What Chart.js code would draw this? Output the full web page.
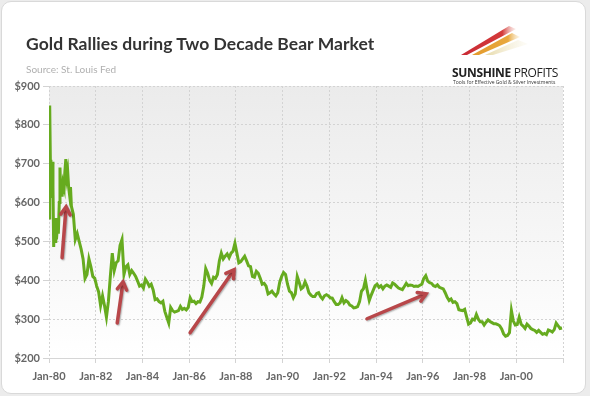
<!DOCTYPE html>
<html>
<head>
<meta charset="utf-8">
<script src="https://cdn.jsdelivr.net/npm/chart.js@4"></script>
<style>
  html, body { margin: 0; padding: 0; background: #ececec; }
  #wrap { position: relative; width: 590px; height: 396px; overflow: hidden; }
  #card {
    position: absolute; left: 1px; top: 1px; width: 583px; height: 391px;
    background: #fff; border: 1px solid #d9d9d9; border-radius: 10px;
  }
  canvas { position: absolute; left: 0; top: 0; }
  #title {
    position: absolute; left: 26px; top: 33px; margin: 0;
    font: bold 17.5px Lato, sans-serif; color: #333; letter-spacing: 0.05px;
  }
  #source {
    position: absolute; left: 26px; top: 63px;
    font: 10px Lato, sans-serif; color: #b0b0b0;
  }
  #logo { position: absolute; left: 448px; top: 20px; width: 118px; height: 70px; }
  #logoName {
    position: absolute; left: 4px; top: 44px; white-space: nowrap;
    font: 12px "Open Sans", sans-serif; color: #222; letter-spacing: -0.35px;
  }
  #logoName b { font-weight: 700; }
  #logoTag {
    position: absolute; left: 5px; top: 59px; white-space: nowrap;
    font: 5px "Open Sans", sans-serif; color: #333;
  }
</style>
</head>
<body>
<div id="wrap">
  <div id="card"></div>
  <canvas id="chart" width="590" height="396"></canvas>
  <div id="title">Gold Rallies during Two Decade Bear Market</div>
  <div id="source">Source: St. Louis Fed</div>
  <div id="logo">
    <svg width="118" height="46" style="position:absolute;left:0;top:0">
      <defs>
        <linearGradient id="fadeR" x1="0" x2="1"><stop offset="0" stop-color="#c92a34"/><stop offset="0.75" stop-color="#d43a3a"/><stop offset="1" stop-color="#f3c9c0" stop-opacity="0.3"/></linearGradient>
        <linearGradient id="fadeO" x1="0" x2="1"><stop offset="0" stop-color="#e39a2c"/><stop offset="0.75" stop-color="#e8a83e"/><stop offset="1" stop-color="#f6dfb4" stop-opacity="0.3"/></linearGradient>
        <linearGradient id="fadeY" x1="0" x2="1"><stop offset="0" stop-color="#e6d9a8"/><stop offset="1" stop-color="#f5efd8" stop-opacity="0.2"/></linearGradient>
      </defs>
      <polygon points="13,35 61,6 68,9 19,35" fill="url(#fadeR)"/>
      <polygon points="24,35 64,13 72,17 31,35" fill="url(#fadeO)"/>
      <polygon points="37,35 70,20 80,24 45,35" fill="url(#fadeY)"/>
    </svg>
    <div id="logoName"><b>SUNSHINE</b> PROFITS</div>
    <div id="logoTag">Tools for Effective Gold &amp; Silver Investments</div>
  </div>
</div>
<script>
const dates1980 = [1980.00, 1980.02, 1980.04, 1980.06, 1980.08, 1980.10, 1980.12, 1980.14,
  1980.17, 1980.20, 1980.23, 1980.26, 1980.29, 1980.32, 1980.36, 1980.40, 1980.44, 1980.47,
  1980.50, 1980.53, 1980.56, 1980.60, 1980.64, 1980.68, 1980.72, 1980.76, 1980.80, 1980.84,
  1980.88, 1980.92, 1980.96];
const prices1980 = [560, 640, 850, 700, 710, 640, 612, 705,
  640, 486, 540, 500, 560, 505, 540, 520, 600, 690,
  620, 660, 615, 650, 640, 680, 712, 665, 680, 640,
  620, 640, 590];

// monthly levels, Jan 1981 .. Dec 2001
const firstMonthly = 1981;
const monthlyPrices = [
  570, 505, 520, 500, 480, 455, 405, 415, 455, 435, 410, 405,   // 1981
  385, 370, 335, 360, 335, 305, 345, 410, 470, 425, 445, 450,   // 1982
  490, 505, 415, 435, 440, 415, 425, 418, 410, 398, 385, 388,   // 1983
  380, 403, 395, 385, 390, 375, 350, 352, 345, 342, 346, 320,   // 1984
  305, 290, 330, 322, 318, 320, 322, 333, 325, 328, 324, 330,   // 1985
  355, 345, 346, 340, 345, 344, 357, 385, 430, 418, 400, 392,   // 1986
  408, 405, 415, 450, 470, 455, 462, 468, 458, 470, 475, 495,   // 1987
  470, 445, 448, 455, 462, 450, 437, 435, 410, 408, 423, 418,   // 1988
  405, 390, 392, 385, 365, 368, 372, 365, 360, 368, 395, 410,   // 1989
  420, 415, 390, 372, 368, 355, 365, 410, 395, 378, 382, 396,   // 1990
  385, 368, 362, 358, 358, 366, 368, 358, 352, 360, 363, 360,   // 1991
  355, 354, 345, 338, 338, 342, 355, 342, 348, 344, 336, 334,   // 1992
  329, 330, 332, 345, 372, 378, 400, 372, 348, 362, 374, 386,   // 1993
  390, 382, 386, 378, 385, 388, 385, 382, 393, 390, 385, 380,   // 1994
  378, 376, 384, 392, 386, 388, 387, 384, 385, 384, 387, 390,   // 1995
  405, 412, 398, 394, 392, 386, 384, 388, 382, 380, 378, 368,   // 1996
  356, 348, 352, 343, 345, 340, 324, 323, 322, 325, 306, 287,   // 1997
  290, 300, 298, 312, 300, 293, 293, 285, 292, 298, 294, 291,   // 1998
  288, 288, 286, 283, 275, 262, 256, 258, 265, 322, 295, 285,   // 1999
  286, 305, 287, 282, 276, 287, 282, 276, 273, 271, 266, 271,   // 2000
  266, 261, 263, 260, 272, 270, 267, 273, 290, 283, 276, 277    // 2001
];

const yTicks = [200, 300, 400, 500, 600, 700, 800, 900];
const xStart = 1980, xEnd = 2002;

// rally arrows: [year, price] tail -> head
const arrowTails = [[1980.56, 458], [1982.92, 290], [1986.04, 265], [1993.61, 301]];
const arrowHeads = [[1980.73, 589], [1983.17, 396], [1987.92, 427], [1996.14, 365]];

const points = [];
for (let i = 0; i < dates1980.length; i++) {
  points.push({ x: dates1980[i], y: prices1980[i] });
}
for (let i = 0; i < monthlyPrices.length; i++) {
  points.push({ x: firstMonthly + (i + 0.5) / 12, y: monthlyPrices[i] });
}

const plotBackground = {
  id: "plotBackground",
  beforeDraw(chart) {
    const a = chart.chartArea;
    const ctx = chart.ctx;
    const g = ctx.createLinearGradient(0, a.top, 0, a.bottom);
    g.addColorStop(0, "#ebebeb");
    g.addColorStop(1, "#ffffff");
    ctx.save();
    ctx.fillStyle = g;
    ctx.fillRect(a.left, a.top, a.right - a.left, a.bottom - a.top);
    ctx.restore();
  }
};

const rallyArrows = {
  id: "rallyArrows",
  afterDatasetsDraw(chart) {
    const ctx = chart.ctx;
    const xs = chart.scales.x, ys = chart.scales.y;
    ctx.save();
    ctx.strokeStyle = "#b8474a";
    ctx.lineWidth = 3.5;
    ctx.lineCap = "round";
    ctx.lineJoin = "miter";
    ctx.shadowColor = "rgba(0,0,0,0.3)";
    ctx.shadowOffsetX = 1;
    ctx.shadowOffsetY = 1;
    ctx.shadowBlur = 1.5;
    for (let i = 0; i < arrowTails.length; i++) {
      const x1 = xs.getPixelForValue(arrowTails[i][0]);
      const y1 = ys.getPixelForValue(arrowTails[i][1]);
      const x2 = xs.getPixelForValue(arrowHeads[i][0]);
      const y2 = ys.getPixelForValue(arrowHeads[i][1]);
      const ang = Math.atan2(y2 - y1, x2 - x1);
      const len = 9;
      ctx.beginPath();
      ctx.moveTo(x1, y1);
      ctx.lineTo(x2 - Math.cos(ang) * 2, y2 - Math.sin(ang) * 2);
      ctx.stroke();
      ctx.beginPath();
      ctx.moveTo(x2 - len * Math.cos(ang - 0.55), y2 - len * Math.sin(ang - 0.55));
      ctx.lineTo(x2, y2);
      ctx.lineTo(x2 - len * Math.cos(ang + 0.55), y2 - len * Math.sin(ang + 0.55));
      ctx.stroke();
    }
    ctx.restore();
  }
};

new Chart(document.getElementById("chart"), {
  type: "line",
  data: {
    datasets: [{
      label: "Gold",
      data: points,
      borderColor: "#66ab1f",
      borderWidth: 3,
      pointRadius: 0,
      tension: 0,
      fill: false
    }]
  },
  options: {
    responsive: false,
    animation: false,
    layout: { padding: { top: 86, right: 27, left: 0, bottom: 0 } },
    plugins: { legend: { display: false }, tooltip: { enabled: false } },
    scales: {
      x: {
        type: "linear",
        min: xStart,
        max: xEnd,
        afterFit(scale) { scale.height = 38; },
        afterBuildTicks(scale) {
          const t = [];
          for (let v = xStart; v <= xEnd; v += 2) t.push({ value: v });
          scale.ticks = t;
        },
        ticks: {
          padding: 7,
          maxRotation: 0,
          color: "#666",
          font: { family: "Lato", size: 11, weight: "bold" },
          callback: function (value) {
            if (value >= xEnd) return "";
            return "Jan-" + String(value % 100).padStart(2, "0");
          }
        },
        grid: { color: "#d3d3d3", tickLength: 5 },
        border: { display: true, color: "#d6d6d6", dash: [2, 2] }
      },
      y: {
        min: yTicks[0],
        max: yTicks[yTicks.length - 1],
        afterFit(scale) { scale.width = 49; },
        afterBuildTicks(scale) {
          scale.ticks = yTicks.map(v => ({ value: v }));
        },
        ticks: {
          padding: 3,
          color: "#666",
          font: { family: "Lato", size: 11, weight: "bold" },
          callback: function (value) { return "$" + value; }
        },
        grid: { color: "#d3d3d3", tickLength: 6 },
        border: { display: false, dash: [2, 2] }
      }
    }
  },
  plugins: [plotBackground, rallyArrows]
});
</script>
</body>
</html>
